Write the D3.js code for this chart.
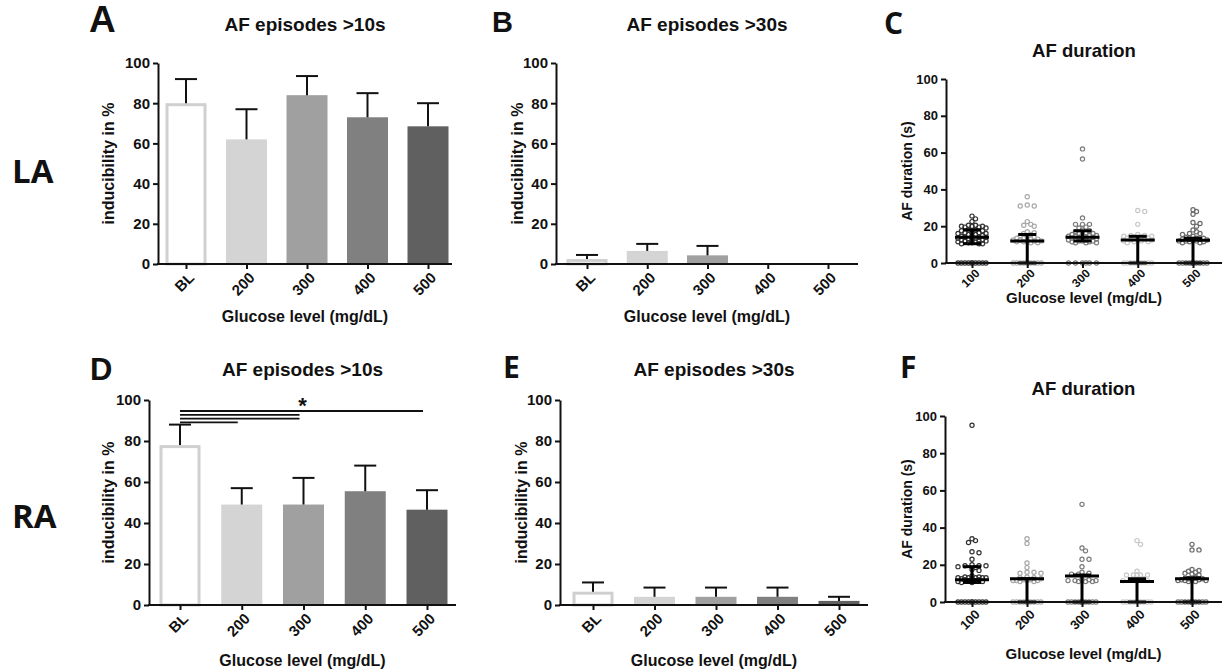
<!DOCTYPE html>
<html>
<head>
<meta charset="utf-8">
<script src="https://cdn.jsdelivr.net/npm/d3@7"></script>
<style>
body { margin: 0; background: #fff; }
text { font-family: "Liberation Sans", Arial, sans-serif; font-weight: bold; fill: #111; }
</style>
</head>
<body>
<div class="container"></div>
<script>
const WIDTH = 1227;
const HEIGHT = 671;

// categories / ticks
var barCats = ["BL", "200", "300", "400", "500"];
var dotCats = ["100", "200", "300", "400", "500"];
var yTicks = [0, 20, 40, 60, 80, 100];

// bar values: mean and upper error (SEM), in %
var la10Mean = [80, 62, 84, 73, 68.5];
var la10Err  = [12, 15, 9.5, 12, 11.5];
var la30Mean = [2.5, 6.5, 4.3, 0, 0];
var la30Err  = [2, 3.5, 4.7, 0, 0];
var ra10Mean = [78, 49, 49, 55.5, 46.5];
var ra10Err  = [10, 8, 13, 12.5, 9.5];
var ra30Mean = [6.5, 4, 4, 4, 2];
var ra30Err  = [4.5, 4.5, 4.5, 4.5, 2];

// AF duration (s), individual episodes
var la100 = [0,0,0,0,0,0,0,0,0,0, 25.5,24,22.5,20.5,20.5,20,20,20,19.5,19.5,19,18,18,17.5,17.5,16.5,16.5,16.5,16,16,15.5,15.5,15,14.5,14.5,14,14,14,13.5,13.5,13,12.5,12.5,12.5,12,12,12,11.5,11.5,11,11,10.5,10.5,10.5];
var la200 = [0,0,0,0,0,0,0,0,0,0,0, 36,31.5,31,31,22.5,21,20.5,20,17,16.5,16,15.5,15,14.5,14,13.5,13.5,13,13,12.5,12.5,12,12,12,11.5,11.5,11,11];
var la300 = [0,0,0,0,0,0, 62,56.5,24.5,21,21,21,19.5,19,18,17.5,17,16.5,16,16,15.5,15.5,15,15,14.5,14.5,14,14,14,13.5,13.5,13,13,13,12.5,12.5,12,12,12,11.5,11.5,11,11,11];
var la400 = [0,0,0,0,0,0,0,0,0,0, 28.5,28,21,15.5,15,15,14.5,14.5,14,14,13.5,13.5,13,13,12.5,12.5,12,12,11.5,11.5,11];
var la500 = [0,0,0,0,0,0,0,0,0,0,0,0,0,0, 29,28,26.5,22,21.5,20,18,17,16,16,15.5,14.5,14,13.5,13.5,13,13,13,12.5,12.5,12,12,12,11.5,11.5,11,11];
var ra100 = [0,0,0,0,0,0,0,0,0,0, 95,34,33,32,27,26.5,23,20,19.5,19.5,19.5,19,18.5,17.5,17,14,13.5,13.5,13,13,13,13,13,12.5,12.5,12,12,11.5,11.5,11,11,10.5,10.5];
var ra200 = [0,0,0,0,0,0,0,0,0,0,0,0,0,0, 34,31.5,21,18.5,16,16,15.5,15.5,13.5,13,13,12.5,12,12,11.5,11.5,11.5,11.5,11,11];
var ra300 = [0,0,0,0,0,0,0,0,0,0,0,0,0,0, 52.5,29,27.5,23,23,19,16,15.5,15,15,12,12,11.5,11.5,11.5,11,11,11];
var ra400 = [0,0,0,0,0,0,0,0,0,0, 33,31,16.5,14.5,14.5,14.5,14.5,14.5,12.5,12,12,11.5,11.5];
var ra500 = [0,0,0,0,0,0,0,0,0,0,0,0,0,0, 31,28,28,17.5,16.5,16,15.5,15,14.5,17,13,12.5,12.5,12,12,12,11.5,11.5,11.5,11,11];

// summary lines of the dot plots: centre, upper and lower whisker
var laDurMid = [14, 12, 14, 12.5, 12.3];
var laDurUp  = [18, 15.5, 17.5, 14.5, 13.5];
var laDurLow = [10.5, 0, 12, 0, 0];
var raDurMid = [12, 12.5, 14, 11, 12.5];
var raDurUp  = [19, 12.5, 14.5, 12.5, 13];
var raDurLow = [10.5, 0, 0, 0, 0];

// significance brackets in D (from BL to ...)
var raSigTo = ["500", "300", "300", "200"];

var barFill = ["#ffffff", "#d4d4d4", "#a0a0a0", "#808080", "#606060"];
var dotStroke = ["#333333", "#a8a8a8", "#7c7c7c", "#c8c8c8", "#6c6c6c"];

var svg = d3.select(".container").append("svg")
	.attr("width", WIDTH)
	.attr("height", HEIGHT);

var styleAxis = function(g, fs){
	g.selectAll(".domain").attr("stroke", "#111").attr("stroke-width", 2);
	g.selectAll(".tick line").attr("stroke", "#111").attr("stroke-width", 2);
	g.selectAll("text").attr("font-size", fs).attr("fill", "#111");
}

var axes = function(p, cats, x, y){
	var ya = svg.append("g")
		.attr("transform", "translate(" + p.ax + ",0)")
		.call(d3.axisLeft(y).tickValues(yTicks).tickSize(5).tickSizeOuter(0).tickPadding(3));
	styleAxis(ya, p.tfs);

	var xa = svg.append("g")
		.attr("transform", "translate(0," + p.y0 + ")")
		.call(d3.axisBottom(x).tickSize(5).tickSizeOuter(0));
	xa.select(".domain").remove();
	styleAxis(xa, p.xfs || p.tfs);
	xa.selectAll("text")
		.attr("x", 0).attr("y", 0).attr("dy", "0.35em")
		.attr("text-anchor", "end")
		.attr("transform", "translate(" + p.lx + "," + p.ly + ") rotate(-45)");
	svg.append("line")
		.attr("x1", p.ax - 1).attr("x2", p.xEnd)
		.attr("y1", p.y0).attr("y2", p.y0)
		.attr("stroke", "#111").attr("stroke-width", 2);

	svg.append("text").attr("x", (p.ax + p.xEnd) / 2).attr("y", p.titleY)
		.attr("text-anchor", "middle").attr("font-size", p.titleFs).text(p.title);
	svg.append("text").attr("x", (p.ax + p.xEnd) / 2).attr("y", p.xtY)
		.attr("text-anchor", "middle").attr("font-size", p.axFs).text("Glucose level (mg/dL)");
	svg.append("text")
		.attr("transform", "translate(" + p.ytX + "," + (p.y0 + p.y1) / 2 + ") rotate(-90)")
		.attr("text-anchor", "middle").attr("font-size", p.ayFs).text(p.yTitle);
	svg.append("text").attr("x", p.letterX).attr("y", p.letterY)
		.attr("font-size", p.letterFs)
		.style("font-family", p.letterFont || null)
		.text(p.letter);
}

var barPanel = function(p, mean, err){
	var x = d3.scalePoint().domain(barCats).range([p.t0, p.t1]);
	var y = d3.scaleLinear().domain([0, 100]).range([p.y0, p.y1]);
	var bw = 41;

	svg.append("g").selectAll("rect")
		.data(mean).join("rect")
		.filter(function(d){ return d > 0; })
		.attr("x", function(d, i){ return x(barCats[i]) - bw / 2 + (i == 0 ? 1.5 : 0); })
		.attr("width", function(d, i){ return i == 0 ? bw - 3 : bw; })
		.attr("y", function(d, i){ return y(d) + (i == 0 ? 1.5 : 0); })
		.attr("height", function(d, i){ return p.y0 - y(d) - (i == 0 ? 1.5 : 0); })
		.attr("fill", function(d, i){ return barFill[i]; })
		.attr("stroke", function(d, i){ return i == 0 ? "#d0d0d0" : "none"; })
		.attr("stroke-width", 3);

	var eb = svg.append("g").attr("stroke", "#111").attr("stroke-width", 2);
	mean.forEach(function(m, i){
		if (err[i] <= 0) return;
		var cx = x(barCats[i]);
		eb.append("line").attr("x1", cx).attr("x2", cx).attr("y1", y(m)).attr("y2", y(m + err[i]));
		eb.append("line").attr("x1", cx - 11).attr("x2", cx + 11).attr("y1", y(m + err[i])).attr("y2", y(m + err[i]));
	});

	axes(p, barCats, x, y);
	return {x: x, y: y};
}

// simple deterministic beeswarm, kept within +-maxHalf px of the category
var swarm = function(values, y, cx, step, minD, maxHalf){
	var placed = [];
	var sorted = values.slice().sort(function(a, b){ return b - a; });
	sorted.forEach(function(v){
		var py = y(v);
		var best = null, bestD = -1;
		for (var k = 0; ; k++){
			var off = (k % 2 ? 1 : -1) * Math.ceil(k / 2) * step;
			if (Math.abs(off) > maxHalf) break;
			var px = cx + off;
			var dmin = d3.min(placed, function(q){ return Math.hypot(q.x - px, q.y - py); });
			if (dmin === undefined) dmin = Infinity;
			if (dmin >= minD){ best = px; break; }
			if (dmin > bestD){ bestD = dmin; best = px; }
		}
		placed.push({x: best, y: py});
	});
	return placed;
}

var dotPanel = function(p, groups, mid, up, low){
	var x = d3.scalePoint().domain(dotCats).range([p.t0, p.t1]);
	var y = d3.scaleLinear().domain([0, 100]).range([p.y0, p.y1]);

	groups.forEach(function(vals, i){
		var pts = swarm(vals, y, x(dotCats[i]), 3.5, 3.8, 17);
		svg.append("g").selectAll("circle")
			.data(pts).join("circle")
			.attr("cx", function(d){ return d.x; })
			.attr("cy", function(d){ return d.y; })
			.attr("r", 2.1)
			.attr("fill", "none")
			.attr("stroke", dotStroke[i])
			.attr("stroke-width", 1.2);
	});

	var s = svg.append("g").attr("stroke", "#000").attr("stroke-width", 3);
	mid.forEach(function(m, i){
		var cx = x(dotCats[i]);
		s.append("line").attr("x1", cx - 17).attr("x2", cx + 17).attr("y1", y(m)).attr("y2", y(m));
		s.append("line").attr("x1", cx).attr("x2", cx).attr("y1", y(low[i])).attr("y2", y(up[i]));
		s.append("line").attr("x1", cx - 9).attr("x2", cx + 9).attr("y1", y(up[i])).attr("y2", y(up[i]));
		s.append("line").attr("x1", cx - 9).attr("x2", cx + 9).attr("y1", y(low[i])).attr("y2", y(low[i]));
	});

	axes(p, dotCats, x, y);
}

barPanel({ax: 158, xEnd: 452, t0: 186, t1: 428, y0: 264, y1: 63, tfs: 15, lx: 5, ly: 11,
	title: "AF episodes >10s", titleY: 31, titleFs: 19, xtY: 322, axFs: 16, ytX: 114, ayFs: 16,
	yTitle: "inducibility in %", letter: "A", letterX: 89, letterY: 32, letterFs: 37}, la10Mean, la10Err);

barPanel({ax: 556, xEnd: 858, t0: 587, t1: 828, y0: 264, y1: 63, tfs: 15, lx: 5, ly: 11,
	title: "AF episodes >30s", titleY: 31, titleFs: 19, xtY: 322, axFs: 16, ytX: 523, ayFs: 16,
	yTitle: "inducibility in %", letter: "B", letterX: 492, letterY: 32, letterFs: 29}, la30Mean, la30Err);

dotPanel({ax: 946, xEnd: 1222, t0: 972, t1: 1193, y0: 263, y1: 79, tfs: 13, xfs: 12, lx: 5, ly: 8,
	title: "AF duration", titleY: 57, titleFs: 18.5, xtY: 303, axFs: 15, ytX: 912, ayFs: 14,
	yTitle: "AF duration  (s)", letter: "C", letterX: 884, letterY: 34, letterFs: 30, letterFont: "Open Sans"},
	[la100, la200, la300, la400, la500], laDurMid, laDurUp, laDurLow);

var d = barPanel({ax: 149, xEnd: 456, t0: 180, t1: 427, y0: 605, y1: 400, tfs: 15, lx: 5, ly: 11,
	title: "AF episodes >10s", titleY: 376, titleFs: 19, xtY: 666, axFs: 16, ytX: 114, ayFs: 16,
	yTitle: "inducibility in %", letter: "D", letterX: 90, letterY: 380, letterFs: 31}, ra10Mean, ra10Err);

// significance lines
var sig = svg.append("g").attr("stroke", "#111").attr("stroke-width", 1.8);
raSigTo.forEach(function(c, i){
	var yy = 411 + i * 3.8;
	sig.append("line").attr("x1", d.x("BL")).attr("x2", d.x(c) - 4).attr("y1", yy).attr("y2", yy);
});
svg.append("text").attr("x", d.x("300") - 1).attr("y", 413).attr("text-anchor", "middle")
	.attr("font-size", 22).text("*");

barPanel({ax: 560, xEnd: 868, t0: 593, t1: 839, y0: 605, y1: 400, tfs: 15, lx: 5, ly: 11,
	title: "AF episodes >30s", titleY: 376, titleFs: 19, xtY: 666, axFs: 16, ytX: 527, ayFs: 16,
	yTitle: "inducibility in %", letter: "E", letterX: 503, letterY: 378, letterFs: 30, letterFont: "Open Sans"}, ra30Mean, ra30Err);

dotPanel({ax: 945, xEnd: 1222, t0: 972, t1: 1192, y0: 602, y1: 416, tfs: 13, lx: 5, ly: 10,
	title: "AF duration", titleY: 395, titleFs: 18.5, xtY: 659, axFs: 15, ytX: 912, ayFs: 14,
	yTitle: "AF duration  (s)", letter: "F", letterX: 900, letterY: 378, letterFs: 30, letterFont: "Open Sans"},
	[ra100, ra200, ra300, ra400, ra500], raDurMid, raDurUp, raDurLow);

svg.append("text").attr("x", 12).attr("y", 183).attr("font-size", 33).style("font-family", "Open Sans").text("LA");
svg.append("text").attr("x", 12).attr("y", 528).attr("font-size", 33).style("font-family", "Open Sans").text("RA");
</script>
</body>
</html>
